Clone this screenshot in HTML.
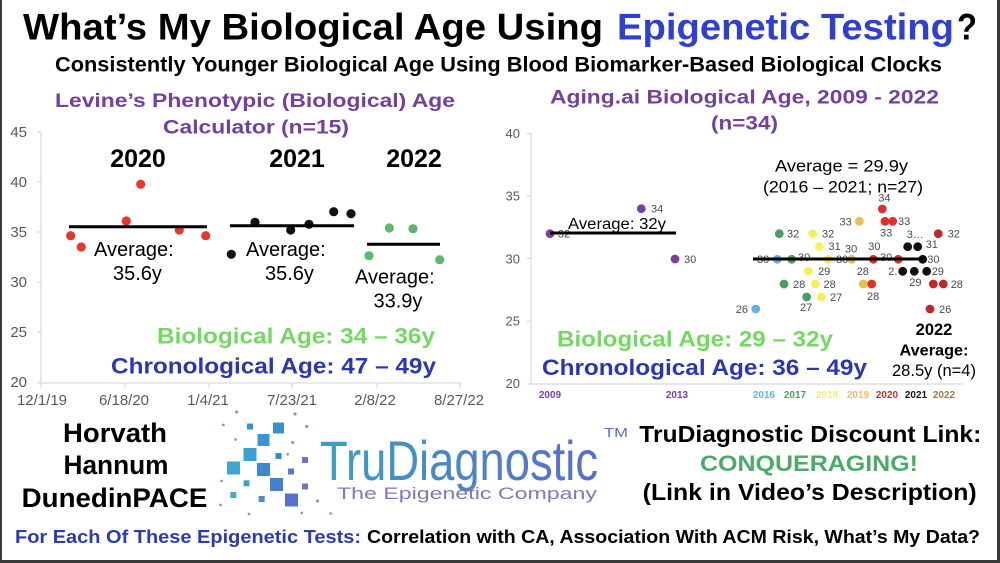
<!DOCTYPE html>
<html>
<head>
<meta charset="utf-8">
<style>
html,body{margin:0;padding:0;background:#fff;}
svg{display:block;}
text{font-family:"Liberation Sans",Arial,sans-serif;}
</style>
</head>
<body>
<svg width="1000" height="563" viewBox="0 0 1000 563" xmlns="http://www.w3.org/2000/svg">
<defs>
<linearGradient id="lg" x1="0" y1="0" x2="1" y2="0">
<stop offset="0" stop-color="#3b9fc4"/>
<stop offset="1" stop-color="#5a6ccc"/>
</linearGradient>
</defs>
<rect x="0" y="0" width="1000" height="563" fill="#ffffff"/>

<!-- Title -->
<text x="23" y="39.5" font-size="37" font-weight="bold" fill="#000" textLength="580" lengthAdjust="spacingAndGlyphs">What’s My Biological Age Using</text>
<text x="617" y="39.5" font-size="37" font-weight="bold" fill="#2f3fcf" textLength="337" lengthAdjust="spacingAndGlyphs">Epigenetic Testing</text>
<text x="957" y="39.5" font-size="37" font-weight="bold" fill="#000" textLength="20" lengthAdjust="spacingAndGlyphs">?</text>
<text x="55" y="71.5" font-size="21" font-weight="bold" fill="#000" textLength="887" lengthAdjust="spacingAndGlyphs">Consistently Younger Biological Age Using Blood Biomarker-Based Biological Clocks</text>

<!-- ===== LEFT CHART ===== -->
<text x="55" y="107" font-size="19.5" font-weight="bold" fill="#7440a0" textLength="400" lengthAdjust="spacingAndGlyphs">Levine’s Phenotypic (Biological) Age</text>
<text x="163" y="133.5" font-size="19.5" font-weight="bold" fill="#7440a0" textLength="186" lengthAdjust="spacingAndGlyphs">Calculator (n=15)</text>

<g font-size="15" fill="#595959" text-anchor="end">
<text x="27" y="137">45</text>
<text x="27" y="187">40</text>
<text x="27" y="237">35</text>
<text x="27" y="287">30</text>
<text x="27" y="337">25</text>
<text x="27" y="387">20</text>
</g>
<line x1="41" y1="132" x2="41" y2="383" stroke="#d9d9d9" stroke-width="1.2"/>
<g stroke="#d9d9d9" stroke-width="1.2">
<line x1="37" y1="132" x2="41" y2="132"/>
<line x1="37" y1="182" x2="41" y2="182"/>
<line x1="37" y1="232" x2="41" y2="232"/>
<line x1="37" y1="282" x2="41" y2="282"/>
<line x1="37" y1="332" x2="41" y2="332"/>
<line x1="37" y1="383" x2="41" y2="383"/>
</g>
<line x1="41" y1="383" x2="461" y2="383" stroke="#d9d9d9" stroke-width="1.2"/>
<g stroke="#d9d9d9" stroke-width="1.2">
<line x1="41" y1="383" x2="41" y2="388"/>
<line x1="125" y1="383" x2="125" y2="388"/>
<line x1="209" y1="383" x2="209" y2="388"/>
<line x1="292" y1="383" x2="292" y2="388"/>
<line x1="377" y1="383" x2="377" y2="388"/>
<line x1="460" y1="383" x2="460" y2="388"/>
</g>
<g font-size="15" fill="#595959" text-anchor="middle">
<text x="42" y="405">12/1/19</text>
<text x="124" y="405">6/18/20</text>
<text x="208" y="405">1/4/21</text>
<text x="292" y="405">7/23/21</text>
<text x="375" y="405">2/8/22</text>
<text x="459" y="405">8/27/22</text>
</g>

<g font-size="25" font-weight="bold" fill="#000" text-anchor="middle">
<text x="138" y="167">2020</text>
<text x="297" y="167">2021</text>
<text x="414" y="167">2022</text>
</g>

<g fill="#e8362c">
<circle cx="70.7" cy="235.7" r="4.6"/>
<circle cx="81.3" cy="247" r="4.6"/>
<circle cx="140.7" cy="184.3" r="4.6"/>
<circle cx="126.3" cy="221" r="4.6"/>
<circle cx="179.3" cy="230" r="4.6"/>
<circle cx="205.7" cy="235.7" r="4.6"/>
</g>
<g fill="#111">
<circle cx="231.3" cy="254.3" r="4.6"/>
<circle cx="255" cy="222.3" r="4.6"/>
<circle cx="290.7" cy="230" r="4.6"/>
<circle cx="309" cy="224.3" r="4.6"/>
<circle cx="333.7" cy="211.7" r="4.6"/>
<circle cx="351" cy="213.7" r="4.6"/>
</g>
<g fill="#5cb86a">
<circle cx="389.3" cy="228" r="4.6"/>
<circle cx="413" cy="228.7" r="4.6"/>
<circle cx="369" cy="255.7" r="4.6"/>
<circle cx="439.7" cy="259.7" r="4.6"/>
</g>
<g stroke="#000" stroke-width="3">
<line x1="69" y1="226.7" x2="207" y2="226.7"/>
<line x1="230" y1="225.7" x2="354" y2="225.7"/>
<line x1="367" y1="244.3" x2="440" y2="244.3"/>
</g>
<g font-size="20" fill="#000">
<text x="94" y="256">Average:</text>
<text x="113" y="280">35.6y</text>
<text x="246" y="256">Average:</text>
<text x="265" y="280">35.6y</text>
<text x="355" y="283.5">Average:</text>
<text x="373.5" y="307.5">33.9y</text>
</g>

<text x="157" y="343.5" font-size="22.5" font-weight="bold" fill="#74d862" textLength="278" lengthAdjust="spacingAndGlyphs">Biological Age: 34 – 36y</text>
<text x="111" y="373.5" font-size="22.5" font-weight="bold" fill="#2a36b5" textLength="325" lengthAdjust="spacingAndGlyphs">Chronological Age: 47 – 49y</text>

<!-- ===== RIGHT CHART ===== -->
<text x="550" y="103.5" font-size="19.5" font-weight="bold" fill="#7440a0" textLength="389" lengthAdjust="spacingAndGlyphs">Aging.ai Biological Age, 2009 - 2022</text>
<text x="711" y="129.5" font-size="19.5" font-weight="bold" fill="#7440a0" textLength="67" lengthAdjust="spacingAndGlyphs">(n=34)</text>

<g font-size="13" fill="#595959" text-anchor="end">
<text x="520" y="138">40</text>
<text x="520" y="200.5">35</text>
<text x="520" y="263.5">30</text>
<text x="520" y="325.5">25</text>
<text x="520" y="388">20</text>
</g>
<line x1="531" y1="133" x2="531" y2="384" stroke="#d9d9d9" stroke-width="1.2"/>
<g stroke="#d9d9d9" stroke-width="1.2">
<line x1="527" y1="133.5" x2="531" y2="133.5"/>
<line x1="527" y1="196" x2="531" y2="196"/>
<line x1="527" y1="258.5" x2="531" y2="258.5"/>
<line x1="527" y1="321" x2="531" y2="321"/>
<line x1="527" y1="384" x2="531" y2="384"/>
</g>
<line x1="531" y1="384" x2="963" y2="384" stroke="#d9d9d9" stroke-width="1.2"/>
<g font-size="10" font-weight="bold" text-anchor="middle">
<text x="550" y="398" fill="#7a3fa0">2009</text>
<text x="677" y="398" fill="#7a3fa0">2013</text>
<text x="764" y="398" fill="#5ab8e0">2016</text>
<text x="795" y="398" fill="#4a9e6a">2017</text>
<text x="827" y="398" fill="#f2ec78">2018</text>
<text x="858" y="398" fill="#e8c060">2019</text>
<text x="887" y="398" fill="#c8302a">2020</text>
<text x="916" y="398" fill="#111">2021</text>
<text x="944" y="398" fill="#9a7a4a">2022</text>
</g>

<text x="568" y="229" font-size="15.5" fill="#000" textLength="98" lengthAdjust="spacingAndGlyphs">Average: 32y</text>
<text x="775" y="171.5" font-size="17" fill="#000" textLength="133" lengthAdjust="spacingAndGlyphs">Average =  29.9y</text>
<text x="763" y="192.5" font-size="17" fill="#000" textLength="160" lengthAdjust="spacingAndGlyphs">(2016 – 2021; n=27)</text>

<g font-size="11" fill="#4a4a4a">
<text x="558" y="237.5">32</text>
<text x="651" y="212.7">34</text>
<text x="684" y="263">30</text>
<text x="748" y="313" text-anchor="end">26</text>
<text x="757" y="263">30</text>
<text x="787" y="237.7">32</text>
<text x="798" y="261">30</text>
<text x="793" y="288">28</text>
<text x="800" y="311">27</text>
<text x="822" y="237.7">32</text>
<text x="828.5" y="250">31</text>
<text x="818" y="275">29</text>
<text x="823.5" y="288">28</text>
<text x="830" y="301">27</text>
<text x="839.5" y="225.5">33</text>
<text x="845" y="252.7">30</text>
<text x="836" y="263">30</text>
<text x="856.7" y="275">28</text>
<text x="867" y="300">28</text>
<text x="878.3" y="201.3">34</text>
<text x="898" y="225">33</text>
<text x="880" y="236.7">33</text>
<text x="868.3" y="250">30</text>
<text x="880" y="261">30</text>
<text x="906.7" y="238">3…</text>
<text x="925.7" y="248">31</text>
<text x="927.3" y="263">30</text>
<text x="888.3" y="275">2.</text>
<text x="931.7" y="275">29</text>
<text x="909.3" y="286">29</text>
<text x="947.7" y="237.7">32</text>
<text x="950.7" y="288">28</text>
<text x="939" y="313">26</text>
</g>

<g fill="#7a3f9f">
<circle cx="550" cy="233.7" r="4.4"/>
<circle cx="641.3" cy="208.7" r="4.4"/>
<circle cx="675" cy="259" r="4.4"/>
</g>
<g fill="#5ab4e4">
<circle cx="777.3" cy="259.3" r="4.4"/>
<circle cx="755.7" cy="309" r="4.4"/>
</g>
<g fill="#4a9e64">
<circle cx="779.3" cy="233.7" r="4.4"/>
<circle cx="791.7" cy="259.3" r="4.4"/>
<circle cx="784" cy="284" r="4.4"/>
<circle cx="806.7" cy="297" r="4.4"/>
</g>
<g fill="#f6ef5c">
<circle cx="812.7" cy="233.7" r="4.4"/>
<circle cx="819.3" cy="246.7" r="4.4"/>
<circle cx="828.3" cy="259.3" r="4.4"/>
<circle cx="808.3" cy="271.3" r="4.4"/>
<circle cx="815.3" cy="284" r="4.4"/>
<circle cx="821.3" cy="297" r="4.4"/>
</g>
<g fill="#e8c050">
<circle cx="859.3" cy="221.3" r="4.4"/>
<circle cx="851.7" cy="259.3" r="4.4"/>
<circle cx="863.3" cy="284" r="4.4"/>
</g>
<g fill="#e03028">
<circle cx="871.7" cy="284" r="4.4"/>
<circle cx="882.3" cy="209" r="4.4"/>
<circle cx="885" cy="221.3" r="4.4"/>
<circle cx="892.7" cy="221.3" r="4.4"/>
<circle cx="873.3" cy="259.3" r="4.4"/>
<circle cx="898.3" cy="259.3" r="4.4"/>
</g>
<g fill="#111">
<circle cx="907.7" cy="246.7" r="4.4"/>
<circle cx="917.7" cy="246.7" r="4.4"/>
<circle cx="922.7" cy="259.3" r="4.4"/>
<circle cx="902.7" cy="271.3" r="4.4"/>
<circle cx="914.3" cy="271.3" r="4.4"/>
<circle cx="926.7" cy="271.3" r="4.4"/>
</g>
<g fill="#c0282a">
<circle cx="938.3" cy="233.7" r="4.4"/>
<circle cx="933.3" cy="284" r="4.4"/>
<circle cx="943.3" cy="284" r="4.4"/>
<circle cx="930" cy="309" r="4.4"/>
</g>
<g stroke="#000" stroke-width="3">
<line x1="550" y1="233" x2="676" y2="233"/>
<line x1="753" y1="259" x2="923" y2="259"/>
</g>

<text x="934" y="335" font-size="16.5" font-weight="bold" fill="#000" text-anchor="middle">2022</text>
<text x="899.5" y="355.7" font-size="16" font-weight="bold" fill="#000" textLength="69" lengthAdjust="spacingAndGlyphs">Average:</text>
<text x="892" y="376" font-size="16.5" fill="#000" textLength="84" lengthAdjust="spacingAndGlyphs">28.5y (n=4)</text>

<text x="557" y="346.5" font-size="22.5" font-weight="bold" fill="#74d862" textLength="276" lengthAdjust="spacingAndGlyphs">Biological Age: 29 – 32y</text>
<text x="542" y="375" font-size="22.5" font-weight="bold" fill="#2a36b5" textLength="325" lengthAdjust="spacingAndGlyphs">Chronological Age: 36 – 49y</text>

<!-- ===== BOTTOM ===== -->
<g font-size="27" font-weight="bold" fill="#000">
<text x="63" y="442" textLength="104" lengthAdjust="spacingAndGlyphs">Horvath</text>
<text x="63.5" y="474" textLength="105" lengthAdjust="spacingAndGlyphs">Hannum</text>
<text x="21.7" y="507" textLength="185.6" lengthAdjust="spacingAndGlyphs">DunedinPACE</text>
</g>

<g>
<rect x="273" y="422.5" width="11" height="11" fill="#3a8fcf"/>
<rect x="257.5" y="434" width="12" height="12" fill="#3a95d0"/>
<rect x="243.5" y="448" width="13" height="13" fill="#3aa0d0"/>
<rect x="227" y="461.5" width="13" height="13" fill="#3ea6cf"/>
<rect x="257" y="463" width="13" height="13" fill="#3b8ccf"/>
<rect x="270" y="478" width="13" height="13" fill="#4280d0"/>
<rect x="285" y="493.5" width="13" height="13" fill="#5570d0"/>
<rect x="247" y="423.5" width="6" height="6" fill="#3a92c8"/>
<rect x="275.5" y="453" width="6" height="6" fill="#3a8ac8"/>
<rect x="288" y="468.5" width="6" height="6" fill="#5a78cc"/>
<rect x="302" y="457" width="6" height="6" fill="#7a6cc8"/>
<rect x="302" y="483.5" width="6" height="6" fill="#7a6cc8"/>
<rect x="243.5" y="480.3" width="6" height="6" fill="#3aa4c8"/>
<rect x="230.3" y="492" width="6" height="6" fill="#40b0c0"/>
<rect x="258.7" y="496" width="6" height="6" fill="#4a8ccc"/>
</g>
<g fill="#8a9ac8">
<circle cx="236.7" cy="412" r="1.6"/>
<circle cx="295" cy="414" r="1.6"/>
<circle cx="223.3" cy="425" r="1.4"/>
<circle cx="306.7" cy="426.5" r="1.6"/>
<circle cx="235.5" cy="439.5" r="1.4"/>
<circle cx="292.7" cy="442.5" r="1.6"/>
<circle cx="287.7" cy="454.3" r="1.4"/>
<circle cx="221.5" cy="481" r="1.4"/>
<circle cx="220.5" cy="505" r="1.4"/>
<circle cx="249" cy="514" r="1.4"/>
<circle cx="317.5" cy="501" r="1.6"/>
<circle cx="330.7" cy="513.5" r="1.4"/>
<circle cx="301.7" cy="513" r="1.4"/>
</g>
<text x="320" y="480" font-size="56" fill="url(#lg)" textLength="278" lengthAdjust="spacingAndGlyphs">TruDiagnostic</text>
<text x="604" y="437" font-size="13" fill="#5a6ccc" textLength="24" lengthAdjust="spacingAndGlyphs">TM</text>
<text x="337" y="499" font-size="17" fill="#7d7ab8" textLength="260" lengthAdjust="spacingAndGlyphs">The Epigenetic Company</text>

<text x="639.3" y="442" font-size="23.5" font-weight="bold" fill="#000" textLength="342" lengthAdjust="spacingAndGlyphs">TruDiagnostic Discount Link:</text>
<text x="700" y="471" font-size="22" font-weight="bold" fill="#4daa68" textLength="218" lengthAdjust="spacingAndGlyphs">CONQUERAGING!</text>
<text x="642.7" y="500" font-size="23" font-weight="bold" fill="#000" textLength="334" lengthAdjust="spacingAndGlyphs">(Link in Video’s Description)</text>

<text x="15" y="543" font-size="18" font-weight="bold" fill="#2b3bb0" textLength="346" lengthAdjust="spacingAndGlyphs">For Each Of These Epigenetic Tests:</text>
<text x="367" y="543" font-size="18" font-weight="bold" fill="#000" textLength="613" lengthAdjust="spacingAndGlyphs">Correlation with CA, Association With ACM Risk, What’s My Data?</text>

<rect x="0" y="0" width="2" height="563" fill="#3a3a3a"/>
<rect x="997" y="0" width="3" height="563" fill="#3a3a3a"/>
<rect x="0" y="560" width="1000" height="3" fill="#3a3a3a"/>
</svg>
</body>
</html>
